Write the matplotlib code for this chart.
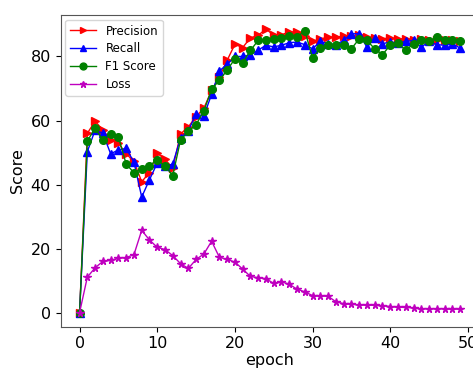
import numpy as np
import matplotlib
matplotlib.use('Agg')
import matplotlib.pyplot as plt

epochs = list(range(50))

precision = [0, 56, 59.8, 57, 54, 52.9, 49.6, 47.2, 40.9, 43.7,
             49.8, 47.9, 45.1, 55.8, 58, 61.2, 63.8, 69.4, 73.6, 78.8,
             83.8, 82.8, 85.8, 86.6, 88.6, 86.6, 86.8, 87.6, 87.6, 86.5,
             84.7, 85.5, 86, 86, 86.4, 86.5, 86.6, 86.0, 85.8, 85.6,
             85.7, 85.5, 85.4, 85.2, 85.4, 85.3, 85.2, 85.0, 85.1, 84.8]

recall = [0, 50.3, 57, 56, 49.6, 50.8, 51.3, 47, 36.1, 41.5,
          46.7, 45.7, 46.4, 54.5, 56.8, 62, 61.4, 68.2, 75.5, 77.5,
          80, 80, 80.5, 82, 83.5, 83, 83.5, 84.3, 84.5, 83.7,
          82.4, 84.7, 84, 83.7, 85, 87.1, 87.1, 82.9, 85.7, 84,
          84.5, 84.3, 84.7, 85, 82.9, 84.7, 83.7, 83.5, 84, 82.6]

f1 = [0, 53.6, 57.6, 53.8, 55.8, 54.9, 46.4, 43.7, 44.8, 45.9,
      47.7, 45.8, 42.8, 53.9, 56.6, 58.7, 63, 69.7, 72.6, 75.7,
      79.3, 78, 81.9, 85, 85, 85.5, 85.7, 86.4, 86, 88.1,
      79.5, 82.6, 83.7, 83.5, 83.7, 82.4, 85.5, 85, 82.4, 80.6,
      83.5, 84.2, 81.9, 84, 85.3, 84.7, 86, 85, 85.3, 84.7]

loss = [0, 11.1, 14.0, 16.0, 16.3, 17.0, 17.2, 18.1, 25.7, 22.7,
        20.4, 19.7, 17.8, 15.3, 13.8, 16.6, 18.3, 22.3, 17.3, 16.6,
        15.8, 13.6, 11.3, 10.9, 10.6, 9.1, 9.6, 8.9, 7.3, 6.5,
        5.3, 5.2, 5.1, 3.4, 2.8, 2.6, 2.4, 2.3, 2.3, 2.2,
        1.9, 1.7, 1.6, 1.5, 1.2, 1.2, 1.2, 1.2, 1.1, 1.1]

fig = plt.figure(figsize=(4.73, 3.70), dpi=100)
ax = fig.add_axes([0.128, 0.117, 0.885, 0.842])

ms = 5.5
ax.plot(epochs, precision, color='r', marker='>', markersize=ms, linewidth=1, label='Precision')
ax.plot(epochs, recall, color='b', marker='^', markersize=ms, linewidth=1, label='Recall')
ax.plot(epochs, f1, color='g', marker='o', markersize=ms, linewidth=1, label='F1 Score')
ax.plot(epochs, loss, color='m', marker='*', markersize=ms, linewidth=1, label='Loss')

ax.set_xlim(-2.45, 51.45)
ax.set_ylim(-4.4, 92.9)
ax.set_xticks([0, 10, 20, 30, 40, 50])
ax.set_yticks([0, 20, 40, 60, 80])
ax.tick_params(labelsize=11.5)
ax.set_xlabel('epoch', fontsize=11.5, labelpad=1)
ax.set_ylabel('Score', fontsize=11.5)
for sp in ax.spines.values():
    sp.set_color('#555555')

ax.legend(loc='upper left', fontsize=8.5, handlelength=2.2, labelspacing=0.4,
          borderaxespad=0.4, markerscale=0.9)

plt.savefig('out.png', dpi=100)
